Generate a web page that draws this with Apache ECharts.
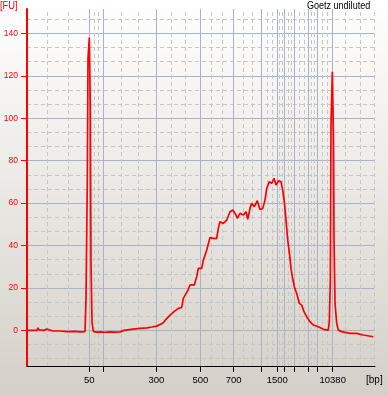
<!DOCTYPE html>
<html>
<head>
<meta charset="utf-8">
<script src="https://cdn.jsdelivr.net/npm/echarts@6/dist/echarts.min.js"></script>
<style>
html,body{margin:0;padding:0;width:388px;height:396px;overflow:hidden;}
#c{width:388px;height:396px;}
</style>
</head>
<body>
<div id="c"></div>
<script>
// Ladder: fragment size (bp) and migration time (s)
const ladderBp   = [50, 100, 300, 500, 700, 1000, 1500, 2000, 3000, 5000, 7000, 10380];
const ladderTime = [35.58, 39.08, 52.33, 63.33, 71.68, 78.68, 82.58, 84.38, 86.93, 90.33, 92.58, 96.43];
const labeledBp  = [50, 300, 500, 700, 1500, 10380];
const yTicks     = [0, 20, 40, 60, 80, 100, 120, 140];
const edgeGridTime = [25.08, 30.33, 99.6, 103.25, 106.9];

// Electropherogram: migration time (s) and fluorescence (FU)
const timeS = [20.00,21.5,22.5,22.75,23.0,24.25,24.93,25.25,26.5,28.25,30.0,32.0,33.25,34.5,
  34.63,34.75,35.08,35.25,35.58,35.83,36.0,36.25,36.58,37.25,38.25,39.5,40.75,42.0,43.25,44.25,
  46.5,48.25,50.0,51.25,52.43,53.25,54.08,54.75,55.75,56.75,57.83,58.68,59.08,59.5,60.25,60.75,
  61.83,62.43,62.83,63.68,64.08,64.93,65.75,66.58,67.43,67.83,68.25,69.08,69.93,70.75,71.43,
  72.25,72.58,73.25,74.08,74.75,75.18,75.75,76.18,76.83,77.58,78.25,78.93,79.5,79.93,80.58,
  81.18,81.75,82.25,82.83,83.5,83.93,84.33,84.68,84.93,85.18,85.5,85.75,86.0,86.33,86.83,87.43,
  88.08,88.68,89.25,89.93,90.75,91.58,92.83,94.08,95.33,95.58,95.83,96.0,96.33,96.63,96.75,97.0,
  97.43,97.83,98.68,100.75,102.43,104.08,106.58];
const fu = [0,0,0,1.2,0.2,0,0.6,0,-0.3,-0.3,-0.6,-0.5,-0.7,-0.6,
  0,15,71,128,138,105,32,4,-0.5,-0.8,-0.7,-0.9,-0.7,-0.8,-0.7,0,
  0.6,0.9,1.2,1.6,2.0,2.8,3.6,5.2,7.2,8.8,10.4,10.8,15.1,15.8,19,21.4,
  21.4,25.3,29.2,29.2,33.1,37.9,43.8,43.4,43.4,48.1,51.2,50.4,52,55.9,56.7,
  54.4,52.8,55.2,54.4,55.9,52.3,57.5,59.9,58.3,61.1,57,57.5,61.4,67,70.1,
  69.3,71.7,68.5,70.5,70.1,66.1,60.6,53.6,48.1,42.6,37.9,33.9,29.2,25.3,20.6,17.4,
  12.7,11.9,8.8,6.4,4.1,2.5,1.7,0.5,0.1,4.1,23.7,96.7,121.9,90.5,43.4,12.7,
  3.3,0.1,-0.6,-1.4,-1.4,-2.2,-3];

const X_MIN = 20, X_MAX = 107, Y_MIN = -16.8, Y_MAX = 151.5;
const traceData = timeS.map((t, i) => [t, fu[i]]);
const labelTimes = labeledBp.map(b => ladderTime[ladderBp.indexOf(b)]);

const solidStyle = {color: '#aab2c4', width: 1, type: 'solid'};
const dashStyle = {color: '#c6c6c6', width: 1, type: [4, 3]};
const gridLines = [];
yTicks.forEach(v => gridLines.push({yAxis: v, lineStyle: solidStyle}));
for (let v = -20; v <= 160; v += 20) {
  [v + 20/3, v + 40/3].forEach(m => {
    if (m > Y_MIN && m < Y_MAX) gridLines.push({yAxis: m, lineStyle: dashStyle});
  });
}
ladderTime.forEach(t => gridLines.push({xAxis: t, lineStyle: solidStyle}));
for (let i = 0; i < ladderTime.length - 1; i++) {
  const a = ladderTime[i], b = ladderTime[i + 1];
  [a + (b - a) / 3, a + 2 * (b - a) / 3].forEach(m => gridLines.push({xAxis: m, lineStyle: dashStyle}));
}
edgeGridTime.forEach(t => gridLines.push({xAxis: t, lineStyle: dashStyle}));

const FONT = '"Liberation Sans",Arial,sans-serif';
const chart = echarts.init(document.getElementById('c'), null, {renderer: 'canvas'});
chart.setOption({
  animation: false,
  backgroundColor: {type: 'linear', x: 0, y: 0, x2: 0, y2: 1,
    colorStops: [{offset: 0, color: '#ffffff'}, {offset: 1, color: '#d4d0c8'}]},
  grid: {left: 27, top: 9, right: 13, bottom: 30},
  xAxis: {
    type: 'value', min: X_MIN, max: X_MAX, z: 20,
    axisLine: {show: true, onZero: false, lineStyle: {color: '#000', width: 1}},
    axisTick: {show: true, length: 6, lineStyle: {color: '#000'}, customValues: ladderTime},
    axisLabel: {customValues: labelTimes, margin: 9, color: '#000', fontSize: 9.5, fontFamily: FONT,
      formatter: v => {
        let best = 0;
        ladderTime.forEach((t, i) => { if (Math.abs(t - v) < Math.abs(ladderTime[best] - v)) best = i; });
        return String(ladderBp[best]);
      }},
    splitLine: {show: false}
  },
  yAxis: {
    type: 'value', min: Y_MIN, max: Y_MAX, z: 20,
    axisLine: {show: true, onZero: false, lineStyle: {color: '#ff0000', width: 2}},
    axisTick: {show: true, length: 6, lineStyle: {color: '#ff0000'}, customValues: yTicks},
    axisLabel: {customValues: yTicks, margin: 9, color: '#ff0000', fontSize: 8.5, fontFamily: FONT},
    splitLine: {show: false}
  },
  graphic: [
    {type: 'text', x: 0, y: 0, scaleX: 0.85,
      style: {text: '[FU]', fill: '#ff0000', font: '11px ' + FONT, align: 'left', verticalAlign: 'top'}},
    {type: 'text', x: 307, y: 0, scaleX: 0.82,
      style: {text: 'Goetz undiluted', fill: '#000', font: '11px ' + FONT, align: 'left', verticalAlign: 'top'}},
    {type: 'text', x: 366, y: 375, style: {text: '[bp]', fill: '#000', font: '10px ' + FONT, align: 'left', verticalAlign: 'top'}}
  ],
  series: [
    {type: 'line', z: 1, data: [[X_MIN, 0]], showSymbol: false, lineStyle: {width: 0}, silent: true,
      markLine: {silent: true, symbol: ['none', 'none'], label: {show: false}, animation: false, data: gridLines}},
    {type: 'line', z: 10, data: traceData, showSymbol: false, smooth: false,
      lineStyle: {color: '#ff0000', width: 1.7}}
  ]
});
</script>
</body>
</html>
